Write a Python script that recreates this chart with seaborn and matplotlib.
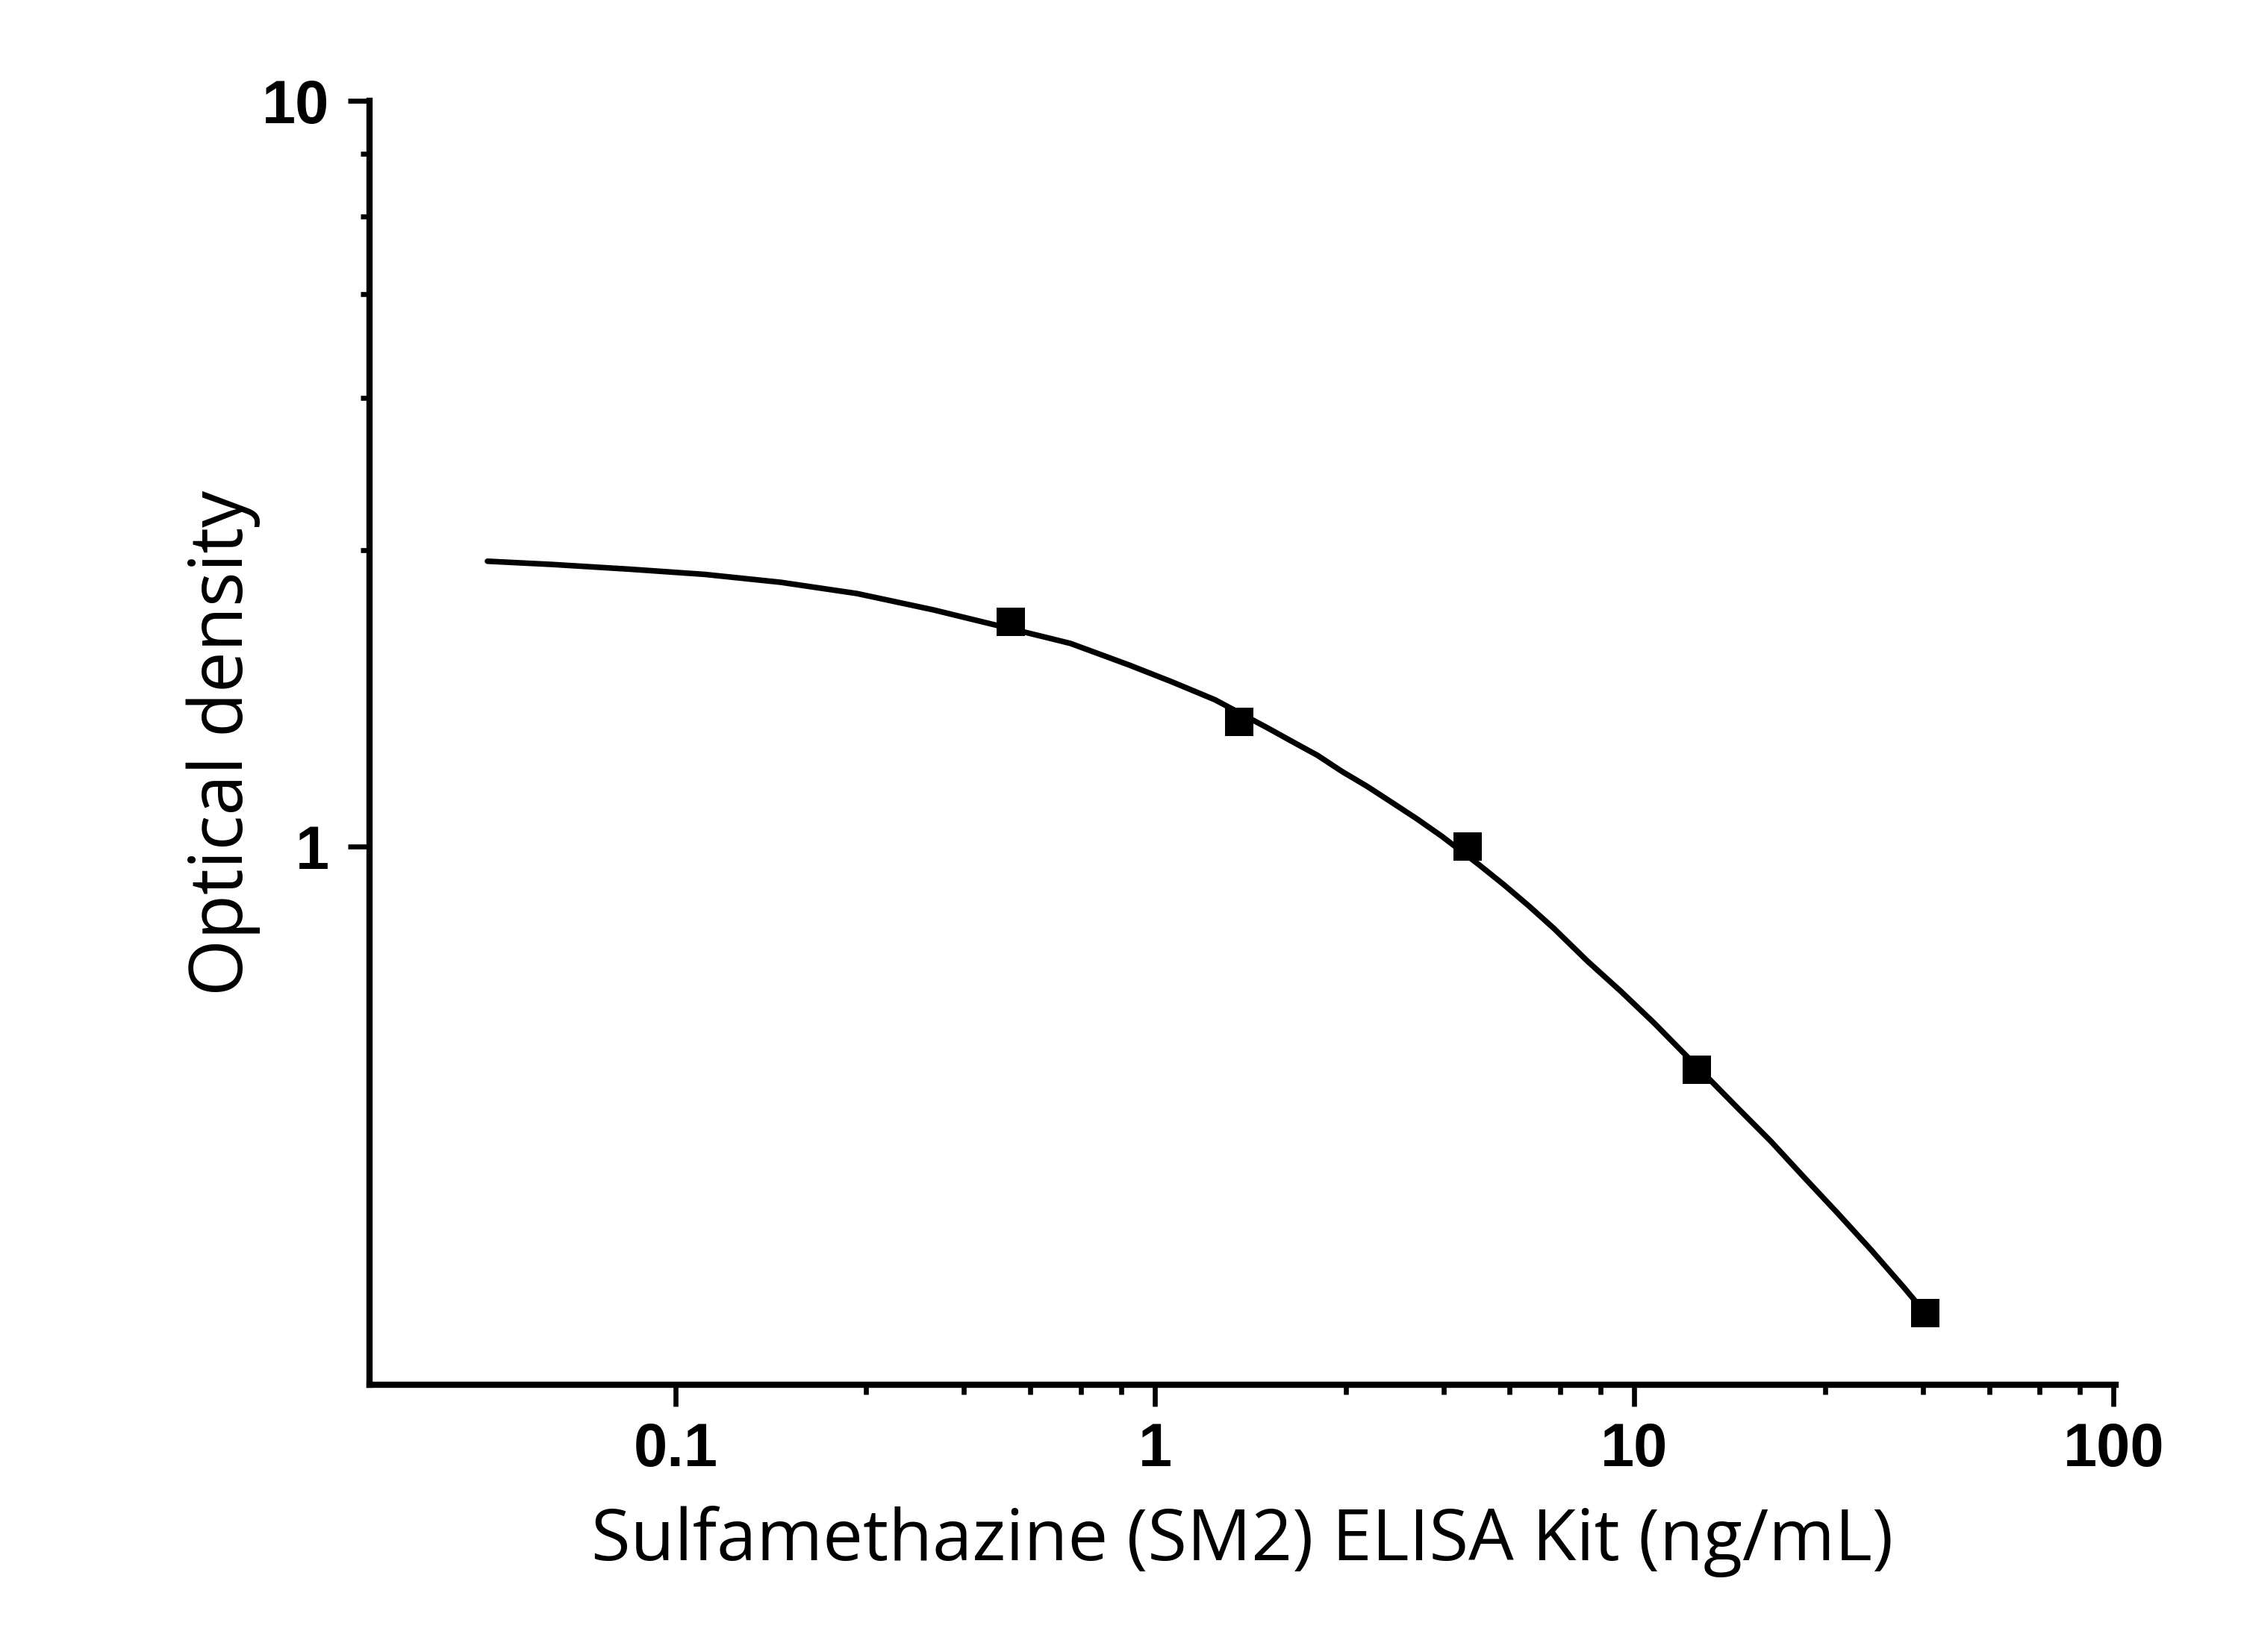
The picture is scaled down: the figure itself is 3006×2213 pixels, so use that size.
import matplotlib
matplotlib.use("Agg")
import matplotlib.pyplot as plt
import matplotlib.ticker as mticker
import seaborn as sns
import pandas as pd

# Measured standards
conc = [0.5, 1.5, 4.5, 13.5, 40.5]
od = [2.00, 1.47, 1.00, 0.502, 0.237]

# Fitted curve
curve_x = [0.04053, 0.05533, 0.07977, 0.1150, 0.1658, 0.2390, 0.3446, 0.5858,
           0.6668, 0.8845, 1.087, 1.335, 1.719, 1.937, 2.184, 2.460, 2.772,
           3.126, 3.521, 3.968, 4.749, 5.352, 6.030, 6.796, 7.993, 9.383,
           11.01, 16.44, 19.29, 22.63, 26.57, 31.18, 36.60, 40.5]
curve_y = [2.414, 2.390, 2.356, 2.318, 2.262, 2.185, 2.078, 1.912,
           1.873, 1.752, 1.663, 1.574, 1.443, 1.383, 1.326, 1.261, 1.205,
           1.146, 1.090, 1.033, 0.9456, 0.8890, 0.8329, 0.7774, 0.7023, 0.6399,
           0.5802, 0.4465, 0.4027, 0.3603, 0.3227, 0.2883, 0.2562, 0.237]

x_major = [0.1, 1, 10, 100]
x_major_labels = ["0.1", "1", "10", "100"]
x_minor = [0.25, 0.4, 0.55, 0.7, 0.85, 2.5, 4, 5.5, 7, 8.5, 25, 40, 55, 70, 85]
y_major = [1, 10]
y_major_labels = ["1", "10"]
y_minor = [2.5, 4, 5.5, 7, 8.5]

x_label = "Sulfamethazine (SM2) ELISA Kit (ng/mL)"
y_label = "Optical density"

sns.set_theme(style="ticks")
plt.rcParams['font.family'] = ['Open Sans', 'DejaVu Sans']

fig = plt.figure(figsize=(3006 / 300, 2213 / 300), dpi=300)
ax = fig.add_axes([495 / 3006, 1 - 1855 / 2213, (2834 - 495) / 3006, (1855 - 135) / 2213])

pts = pd.DataFrame({"x": conc, "y": od})
crv = pd.DataFrame({"x": curve_x, "y": curve_y})

sns.lineplot(data=crv, x="x", y="y", ax=ax, color="black", linewidth=1.8,
             sort=False, estimator=None)
sns.scatterplot(data=pts, x="x", y="y", ax=ax, color="black", marker="s",
                s=85, linewidth=0, zorder=5)

ax.set_xscale("log")
ax.set_yscale("log")

tick_font = dict(fontfamily=["Liberation Sans", "DejaVu Sans"], fontweight="bold",
                 fontsize=19.5, color="black")
ax.set_xticks(x_major, labels=x_major_labels, **tick_font)
ax.set_xticks(x_minor, minor=True)
ax.xaxis.set_minor_formatter(mticker.NullFormatter())
ax.set_yticks(y_major, labels=y_major_labels, **tick_font)
ax.set_yticks(y_minor, minor=True)
ax.yaxis.set_minor_formatter(mticker.NullFormatter())
ax.set_xlim(0.0230, 101)
ax.set_ylim(0.19, 10)

for side in ["top", "right"]:
    ax.spines[side].set_visible(False)
for side in ["left", "bottom"]:
    ax.spines[side].set_linewidth(2.0)
    ax.spines[side].set_color("black")

ax.tick_params(axis="both", which="major", length=7, width=1.6, color="black")
ax.tick_params(axis="both", which="minor", length=3, width=1.6, color="black")
ax.tick_params(axis="x", which="major", pad=5)
ax.tick_params(axis="y", which="major", pad=6)

ax.set_xlabel(x_label, fontsize=23, color="black")
ax.set_ylabel(y_label, fontsize=23.5, color="black")
ax.xaxis.set_label_coords(0.5, -0.094)
ax.yaxis.set_label_coords(-0.0624, 0.5)

fig.savefig("out.png", dpi=300, facecolor="white")
